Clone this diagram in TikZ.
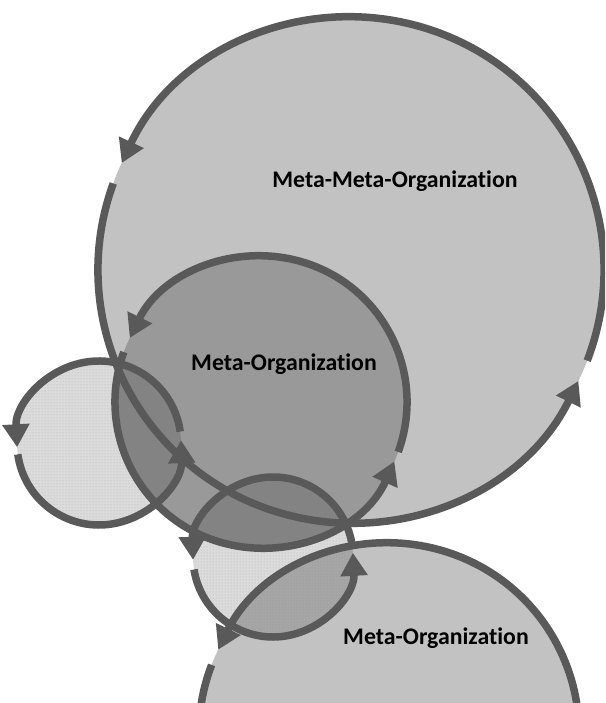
\documentclass[tikz,border=0pt]{standalone}
\usepackage{fontspec}
\setmainfont{Carlito}[Ligatures=NoCommon]
\usetikzlibrary{arrows.meta, patterns}
\tikzstyle{every picture}+=[x=1pt, y=1pt]
\tikzstyle{ring} = [draw=black!65, line width=7.5pt, -{Triangle[length=23pt, width=26pt]}]
\tikzstyle{lbl} = [font=\fontsize{23.8}{28}\selectfont\bfseries, anchor=base]

\begin{document}
\begin{tikzpicture}
	\useasboundingbox (0,0) rectangle (605,703);
	\clip (0,0) rectangle (605,703);
	% discs
	\fill[black!24] (351,433) circle (253);
	\fill[black!40] (261,301) circle (146);
	\fill[black!24] (389,-30) circle (190);
	\foreach \cx/\cy/\r in {99/260/82, 273/146/80}
	{
		\fill[black, opacity=.14] (\cx,\cy) circle (\r);
		\fill[pattern=dots, pattern color=black!45, opacity=.5] (\cx,\cy) circle (\r);
	}
	% rims, two arrowed arcs each
	\foreach \cx/\cy/\r/\a/\b/\c/\d in {351/433/253/160/334/339/515, 261/301/146/160/336/340/514, 99/260/82/8/183/188/362, 273/146/80/10/182/189/363, 389/-30/190/-20/154/159/330}
	{
		\draw[ring] (\cx,\cy) ++(\a:\r) arc[start angle=\a, end angle=\b, radius=\r];
		\draw[ring] (\cx,\cy) ++(\c:\r) arc[start angle=\c, end angle=\d, radius=\r];
	}
	\node[lbl] (mmo) at (395,515) {Meta-Meta-Organization};
	\node[lbl] (mo1) at (284,332) {Meta-Organization};
	\node[lbl] (mo2) at (436,58) {Meta-Organization};
\end{tikzpicture}
\end{document}
